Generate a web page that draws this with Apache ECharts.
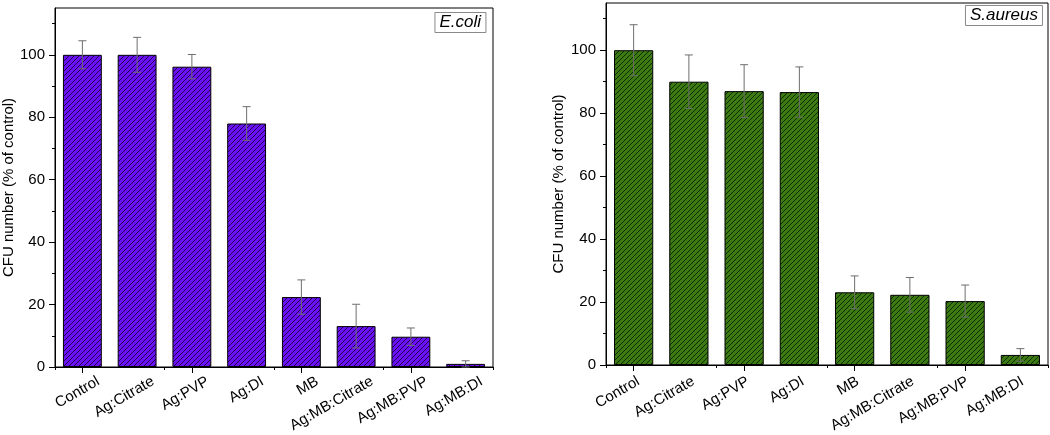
<!DOCTYPE html>
<html>
<head>
<meta charset="utf-8">
<script src="https://cdn.jsdelivr.net/npm/echarts@6/dist/echarts.min.js"></script>
<style>
html,body{margin:0;padding:0;background:#fff;}
#chart{width:1050px;height:435px;}
</style>
</head>
<body>
<div id="chart"></div>
<script>
const categories = ['Control','Ag:Citrate','Ag:PVP','Ag:DI','MB','Ag:MB:Citrate','Ag:MB:PVP','Ag:MB:DI'];
const ecoliMean = [100, 100, 96.2, 78.0, 22.4, 13.1, 9.7, 1.0];
const ecoliErr = [4.5, 5.6, 3.9, 5.4, 5.5, 7.0, 2.8, 1.0];
const saureusMean = [100, 90.0, 87.0, 86.7, 23.1, 22.3, 20.3, 3.2];
const saureusErr = [8.1, 8.5, 8.4, 8.0, 5.2, 5.5, 5.1, 2.0];
const yMajorTicks = [0, 20, 40, 60, 80, 100];
const yMinorTicks = [10, 30, 50, 70, 90, 110];
const panelTitles = ['E.coli', 'S.aureus'];
const yAxisTitle = 'CFU number (% of control)';

const FONT = "'Liberation Sans', Arial, sans-serif";

function hatch(fill, line) {
  const s = 5;
  const c = document.createElement('canvas');
  c.width = s; c.height = s;
  const g = c.getContext('2d');
  g.fillStyle = fill; g.fillRect(0, 0, s, s);
  g.strokeStyle = line; g.lineWidth = 1;
  g.beginPath();
  g.moveTo(-1, s + 1); g.lineTo(s + 1, -1);
  g.moveTo(-1, 1); g.lineTo(1, -1);
  g.moveTo(s - 1, s + 1); g.lineTo(s + 1, s - 1);
  g.stroke();
  return { image: c, repeat: 'repeat' };
}

function errSeries(xi, yi, mean, err) {
  return {
    type: 'custom', xAxisIndex: xi, yAxisIndex: yi, z: 5,
    data: mean.map((m, i) => [i, m, err[i]]),
    renderItem: function (params, api) {
      const i = api.value(0), m = api.value(1), e = api.value(2);
      const top = api.coord([i, m + e]);
      const bot = api.coord([i, m - e]);
      const hw = 4;
      const st = { stroke: '#6e6e6e', lineWidth: 1 };
      return {
        type: 'group',
        children: [
          { type: 'line', shape: { x1: top[0], y1: top[1], x2: bot[0], y2: bot[1] }, style: st },
          { type: 'line', shape: { x1: top[0] - hw, y1: top[1], x2: top[0] + hw, y2: top[1] }, style: st },
          { type: 'line', shape: { x1: bot[0] - hw, y1: bot[1], x2: bot[0] + hw, y2: bot[1] }, style: st }
        ]
      };
    }
  };
}

function xMain(gi) {
  return {
    type: 'category', gridIndex: gi, position: 'bottom', data: categories, boundaryGap: true,
    axisLine: { show: true, lineStyle: { color: '#000', width: 1 } },
    axisTick: { show: true, alignWithLabel: true, inside: false, length: 6, lineStyle: { color: '#000' } },
    axisLabel: { show: false },
    splitLine: { show: false }
  };
}
function xMinor(gi) {
  return {
    type: 'category', gridIndex: gi, position: 'bottom', data: categories, boundaryGap: true,
    axisLine: { show: false },
    axisTick: { show: true, alignWithLabel: false, length: 3, lineStyle: { color: '#000' } },
    axisLabel: { show: false },
    splitLine: { show: false }
  };
}
function xLabels(gi) {
  return {
    type: 'category', gridIndex: gi, position: 'bottom', data: categories, boundaryGap: true,
    axisLine: { show: false }, axisTick: { show: false }, splitLine: { show: false },
    axisLabel: { show: true, interval: 0, rotate: 30, margin: 21, fontSize: 15, color: '#000', fontFamily: FONT }
  };
}
function yMain(gi, gap) {
  return {
    type: 'value', gridIndex: gi, position: 'left', min: 0, max: 115, interval: 20,
    name: yAxisTitle, nameLocation: 'middle', nameGap: gap,
    nameTextStyle: { fontSize: 15, color: '#000', fontFamily: FONT },
    axisLine: { show: true, lineStyle: { color: '#000', width: 1 } },
    axisTick: { show: true, length: 6, customValues: yMajorTicks, lineStyle: { color: '#000' } },
    axisLabel: { show: true, customValues: yMajorTicks, margin: 10, fontSize: 15, color: '#000', fontFamily: FONT },
    splitLine: { show: false }
  };
}
function yMinor(gi) {
  return {
    type: 'value', gridIndex: gi, position: 'left', min: 0, max: 115, interval: 10,
    axisLine: { show: false },
    axisTick: { show: true, length: 3, customValues: yMinorTicks, lineStyle: { color: '#000' } },
    axisLabel: { show: false },
    splitLine: { show: false }
  };
}
function yHidden(gi) {
  return { type: 'value', gridIndex: gi, min: 0, max: 115, show: false };
}

const chart = echarts.init(document.getElementById('chart'), null, { renderer: 'canvas' });
chart.setOption({
  backgroundColor: '#fff',
  animation: false,
  textStyle: { fontFamily: FONT },
  title: [
    { text: panelTitles[0], right: 564, top: 12, padding: [2, 5, 2, 5], borderColor: '#8a8a8a', borderWidth: 1,
      textStyle: { fontStyle: 'italic', fontWeight: 'normal', fontSize: 17, color: '#000', fontFamily: FONT } },
    { text: panelTitles[1], right: 7, top: 5, padding: [2, 5, 2, 5], borderColor: '#8a8a8a', borderWidth: 1,
      textStyle: { fontStyle: 'italic', fontWeight: 'normal', fontSize: 17, color: '#000', fontFamily: FONT } }
  ],
  grid: [
    { left: 55, width: 438, top: 8, height: 359, show: true, borderColor: '#000', borderWidth: 1, backgroundColor: 'transparent' },
    { left: 606, width: 442, top: 3, height: 362, show: true, borderColor: '#000', borderWidth: 1, backgroundColor: 'transparent' },
    { left: 55 + 16, width: 438, top: 8, height: 359 },
    { left: 606 + 5, width: 442, top: 3, height: 362 }
  ],
  xAxis: [xMain(0), xMinor(0), xMain(1), xMinor(1), xLabels(2), xLabels(3)],
  yAxis: [yMain(0, 37), yMinor(0), yMain(1, 40), yMinor(1), yHidden(2), yHidden(3)],
  series: [
    { type: 'bar', xAxisIndex: 0, yAxisIndex: 0, data: ecoliMean, barWidth: '71%',
      itemStyle: { color: hatch('#6a12f5', 'rgba(20,0,50,0.85)'), borderColor: '#000', borderWidth: 1 } },
    errSeries(0, 0, ecoliMean, ecoliErr),
    { type: 'bar', xAxisIndex: 2, yAxisIndex: 2, data: saureusMean, barWidth: '71%',
      itemStyle: { color: hatch('#3d7a12', 'rgba(0,30,0,0.85)'), borderColor: '#000', borderWidth: 1 } },
    errSeries(2, 2, saureusMean, saureusErr)
  ]
});
</script>
</body>
</html>
